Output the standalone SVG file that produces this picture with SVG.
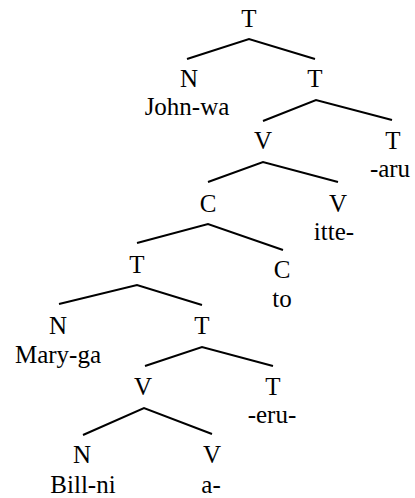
<svg xmlns="http://www.w3.org/2000/svg" width="415" height="498" viewBox="0 0 415 498">
<style>
.e{fill:none;stroke:#000;stroke-width:2}
.t{font-family:'Liberation Serif','Times New Roman',serif;font-size:25px;text-anchor:middle;fill:#000}
</style>
<rect width="415" height="498" fill="#fff"/>
<g id="connectors">
<polyline class="e" points="187,59 249,39 315,59"/>
<polyline class="e" points="263,121 316,100 392,120"/>
<polyline class="e" points="208,182 263,162 338,182"/>
<polyline class="e" points="137,243 208,224 283,250"/>
<polyline class="e" points="59,304 137,285 202,305"/>
<polyline class="e" points="145,366 202,347 273,366"/>
<polyline class="e" points="83,435 144,408 212,434"/>
</g>
<g id="n1"><text class="t" x="249" y="27" style="font-family:'Liberation Serif'">T</text></g>
<g id="n2"><text class="t" x="189" y="87" style="font-family:'Liberation Serif'">N</text><text class="t" x="187" y="115" style="font-family:'Liberation Serif'">John-wa</text></g>
<g id="n3"><text class="t" x="315" y="87" style="font-family:'Liberation Serif'">T</text></g>
<g id="n4"><text class="t" x="263" y="149" style="font-family:'Liberation Serif'">V</text></g>
<g id="n5"><text class="t" x="393" y="149" style="font-family:'Liberation Serif'">T</text><text class="t" x="390" y="177" style="font-family:'Liberation Serif'">-aru</text></g>
<g id="n6"><text class="t" x="208" y="212" style="font-family:'Liberation Serif'">C</text></g>
<g id="n7"><text class="t" x="338" y="212" style="font-family:'Liberation Serif'">V</text><text class="t" x="334" y="240" style="font-family:'Liberation Serif'">itte-</text></g>
<g id="n8"><text class="t" x="137" y="273" style="font-family:'Liberation Serif'">T</text></g>
<g id="n9"><text class="t" x="282" y="278" style="font-family:'Liberation Serif'">C</text><text class="t" x="282" y="307" style="font-family:'Liberation Serif'">to</text></g>
<g id="n10"><text class="t" x="58" y="334" style="font-family:'Liberation Serif'">N</text><text class="t" x="58" y="363" style="font-family:'Liberation Serif'">Mary-ga</text></g>
<g id="n11"><text class="t" x="202" y="334" style="font-family:'Liberation Serif'">T</text></g>
<g id="n12"><text class="t" x="143" y="395" style="font-family:'Liberation Serif'">V</text></g>
<g id="n13"><text class="t" x="273" y="395" style="font-family:'Liberation Serif'">T</text><text class="t" x="272" y="423" style="font-family:'Liberation Serif'">-eru-</text></g>
<g id="n14"><text class="t" x="82" y="463" style="font-family:'Liberation Serif'">N</text><text class="t" x="83" y="493" style="font-family:'Liberation Serif'">Bill-ni</text></g>
<g id="n15"><text class="t" x="212" y="463" style="font-family:'Liberation Serif'">V</text><text class="t" x="211" y="493" style="font-family:'Liberation Serif'">a-</text></g>
</svg>
